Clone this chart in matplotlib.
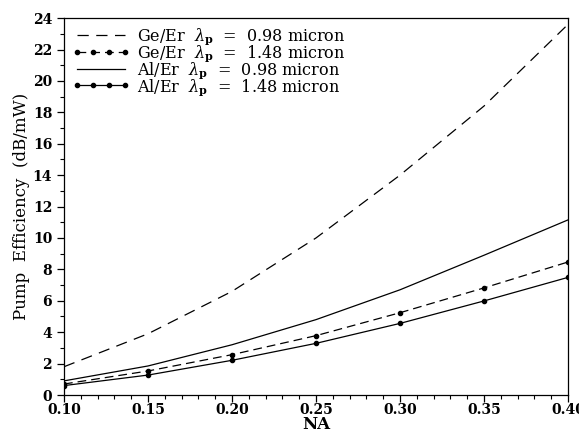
import matplotlib
matplotlib.use("Agg")
import matplotlib.pyplot as plt
from matplotlib.ticker import MultipleLocator, FormatStrFormatter

plt.rcParams['font.family'] = ['DejaVu Serif']
plt.rcParams['mathtext.fontset'] = 'dejavuserif'

na = [0.10, 0.15, 0.20, 0.25, 0.30, 0.35, 0.40]
ge_098 = [1.8, 3.9, 6.6, 10.0, 14.0, 18.4, 23.6]
ge_148 = [0.70, 1.53, 2.57, 3.78, 5.24, 6.82, 8.47]
al_098 = [0.9, 1.85, 3.2, 4.8, 6.7, 8.9, 11.15]
al_148 = [0.60, 1.27, 2.21, 3.29, 4.56, 5.99, 7.49]

labels = [r'Ge/Er  $\lambda_{\mathbf{p}}$  =  0.98 micron',
          r'Ge/Er  $\lambda_{\mathbf{p}}$  =  1.48 micron',
          r'Al/Er  $\lambda_{\mathbf{p}}$  =  0.98 micron',
          r'Al/Er  $\lambda_{\mathbf{p}}$  =  1.48 micron']

fig = plt.figure(figsize=(5.79, 4.32), dpi=100)
ax = fig.add_axes([0.1105, 0.0856, 0.8705, 0.8725])

ax.plot(na, ge_098, color='black', lw=0.9, dashes=(9, 6), label=labels[0])
ax.plot(na, ge_148, color='black', lw=0.9, dashes=(7, 4), marker='o', ms=3, label=labels[1])
ax.plot(na, al_098, color='black', lw=0.9, label=labels[2])
ax.plot(na, al_148, color='black', lw=0.9, marker='o', ms=3, label=labels[3])

ax.set_xlim(0.10, 0.40)
ax.set_ylim(0, 24)
ax.xaxis.set_major_locator(MultipleLocator(0.05))
ax.xaxis.set_minor_locator(MultipleLocator(0.01))
ax.yaxis.set_major_locator(MultipleLocator(2))
ax.yaxis.set_minor_locator(MultipleLocator(1))
ax.xaxis.set_major_formatter(FormatStrFormatter('%.2f'))
ax.tick_params(which='major', direction='out', length=5, width=0.9, labelsize=10)
ax.tick_params(axis='x', which='major', pad=1)
ax.tick_params(which='minor', direction='out', length=3, width=0.8)
for lab in ax.get_xticklabels() + ax.get_yticklabels():
    lab.set_fontweight('bold')

for s in ax.spines.values():
    s.set_linewidth(0.9)

ax.set_xlabel('NA', fontsize=12, fontweight='bold', labelpad=-1)
ax.set_ylabel('Pump  Efficiency  (dB/mW)', fontsize=12, labelpad=2)

leg = ax.legend(loc='upper left', frameon=False, fontsize=11.5, handlelength=3.6,
                numpoints=4, labelspacing=-0.25, borderaxespad=0.2, handletextpad=0.5,
                borderpad=0.3, bbox_to_anchor=(0.0, 1.0))

fig.savefig('out.png', dpi=100)
